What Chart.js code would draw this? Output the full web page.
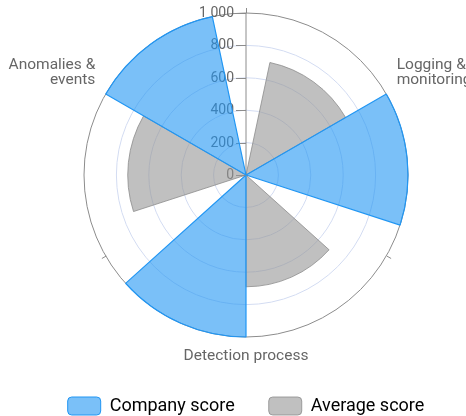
<!DOCTYPE html>
<html>
<head>
<meta charset="utf-8">
<script src="https://cdn.jsdelivr.net/npm/chart.js@4.4.1/dist/chart.umd.min.js"></script>
<style>
  html, body { margin: 0; padding: 0; background: #ffffff; }
  #c { display: block; }
</style>
</head>
<body>
<canvas id="c" width="466" height="416"></canvas>
<script>
// ---- data ----
const categories = [['Logging &', 'monitoring'], 'Detection process', ['Anomalies &', 'events']];
const seriesNames = ['Company score', 'Average score'];
const companyScore = [1000, 1000, 1000];
const averageScore = [710, 690, 730];
const tickValues = [0, 200, 400, 600, 800, 1000];

// ---- styles ----
const companyFill = 'rgba(33,150,243,0.6)';
const companyBorder = '#2196f3';
const averageFill = 'rgba(150,150,150,0.6)';
const averageBorder = 'rgba(140,140,140,0.8)';
const textFont = 'Roboto';

// Build polar elements: each category spans 360/n degrees, with padding
const catSpan = 360 / categories.length;   // 120
const groupPad = catSpan * 0.1;            // 12
const colSpan = (catSpan - 2 * groupPad) / 2; // 48

const polarValues = [], polarAngles = [], polarBg = [], polarBorder = [], polarBw = [];
categories.forEach((c, i) => {
  polarValues.push(0); polarAngles.push(groupPad); polarBg.push('rgba(0,0,0,0)'); polarBorder.push('rgba(0,0,0,0)'); polarBw.push(0);
  polarValues.push(averageScore[i]); polarAngles.push(colSpan); polarBg.push(averageFill); polarBorder.push(averageBorder); polarBw.push(1);
  polarValues.push(companyScore[i]); polarAngles.push(colSpan); polarBg.push(companyFill); polarBorder.push(companyBorder); polarBw.push(1.2);
  polarValues.push(0); polarAngles.push(groupPad); polarBg.push('rgba(0,0,0,0)'); polarBorder.push('rgba(0,0,0,0)'); polarBw.push(0);
});
// radial scale labels: boundary + centre for each category
const scaleLabels = categories.flatMap(c => ['', c]);

const fmt = v => String(v).replace(/\B(?=(\d{3})+(?!\d))/g, ' ');

const decor = {
  id: 'decor',
  beforeDatasetsDraw(chart) {
    const s = chart.scales.r, ctx = chart.ctx;
    ctx.save();
    ctx.strokeStyle = '#8c8c8c';
    ctx.lineWidth = 1;
    ctx.font = '14px ' + textFont;
    ctx.fillStyle = '#666666';
    ctx.textAlign = 'right';
    ctx.textBaseline = 'middle';
    s.ticks.forEach(t => {
      const y = Math.round(s.yCenter - s.getDistanceFromCenterForValue(t.value)) + 0.5;
      ctx.beginPath();
      ctx.moveTo(s.xCenter - 10, y);
      ctx.lineTo(s.xCenter, y);
      ctx.stroke();
      ctx.fillText(fmt(t.value), s.xCenter - 12, y);
    });
    for (let i = 0; i < scaleLabels.length; i += 2) {
      const a = s.getPointPosition(i, s.drawingArea);
      const b = s.getPointPosition(i, s.drawingArea + 5);
      ctx.beginPath();
      ctx.moveTo(a.x + 0.5, a.y);
      ctx.lineTo(b.x + 0.5, b.y);
      ctx.stroke();
    }
    ctx.restore();
  },
  afterDraw(chart) {
    const s = chart.scales.r, ctx = chart.ctx;
    ctx.save();
    ctx.font = '15.5px ' + textFont;
    ctx.fillStyle = '#666666';
    ctx.textBaseline = 'middle';
    const lh = 15;
    scaleLabels.forEach((lab, i) => {
      if (!lab) return;
      const lines = Array.isArray(lab) ? lab : [lab];
      const p = s.getPointPosition(i, s.drawingArea + 12);
      const deg = s.getIndexAngle(i) * 180 / Math.PI;
      let align = (Math.abs(deg) < 1 || Math.abs(deg - 180) < 1) ? 'center' : (deg < 180 ? 'left' : 'right');
      const h = lines.length * lh;
      let top;
      if (Math.abs(deg - 90) < 1 || Math.abs(deg - 270) < 1) top = p.y - h / 2;
      else if (deg < 90 || deg > 270) top = p.y - h;
      else top = p.y;
      ctx.textAlign = align;
      lines.forEach((ln, k) => ctx.fillText(ln, p.x, top + lh / 2 + k * lh));
    });
    ctx.restore();
  }
};

new Chart(document.getElementById('c'), {
  type: 'polarArea',
  data: {
    labels: scaleLabels,
    datasets: [{
      data: polarValues,
      angle: polarAngles,
      backgroundColor: polarBg,
      borderColor: polarBorder,
      borderWidth: polarBw
    }]
  },
  options: {
    responsive: false,
    animation: false,
    events: [],
    layout: { padding: { top: 13, left: 26, right: 0, bottom: 0 } },
    scales: {
      r: {
        min: 0,
        max: 1000,
        startAngle: 0,
        afterBuildTicks: sc => { sc.ticks = tickValues.map(v => ({ value: v })); },
        ticks: { display: false, stepSize: 200 },
        grid: {
          circular: true,
          lineWidth: 1,
          color: ctx => (ctx.tick && ctx.tick.value === tickValues[tickValues.length - 1]) ? '#8c8c8c' : '#d3dcf2'
        },
        angleLines: {
          display: true,
          lineWidth: 1,
          color: ctx => ctx.index === 0 ? '#8c8c8c' : 'rgba(0,0,0,0)'
        },
        pointLabels: { display: false }
      }
    },
    plugins: {
      tooltip: { enabled: false },
      title: {
        display: true, text: '', position: 'bottom', weight: 500,
        padding: 0, font: { size: 26, lineHeight: 1 }
      },
      legend: {
        position: 'bottom',
        maxHeight: 53,
        labels: {
          boxWidth: 33,
          boxHeight: 18,
          padding: 34,
          color: '#333333',
          font: { family: textFont, size: 18 },
          generateLabels: () => [
            { text: seriesNames[0], fillStyle: companyFill, strokeStyle: companyBorder, lineWidth: 1, borderRadius: 4, hidden: false, datasetIndex: 0 },
            { text: seriesNames[1], fillStyle: averageFill, strokeStyle: averageBorder, lineWidth: 1, borderRadius: 4, hidden: false, datasetIndex: 0 }
          ]
        }
      }
    }
  },
  plugins: [decor]
});
</script>
</body>
</html>
